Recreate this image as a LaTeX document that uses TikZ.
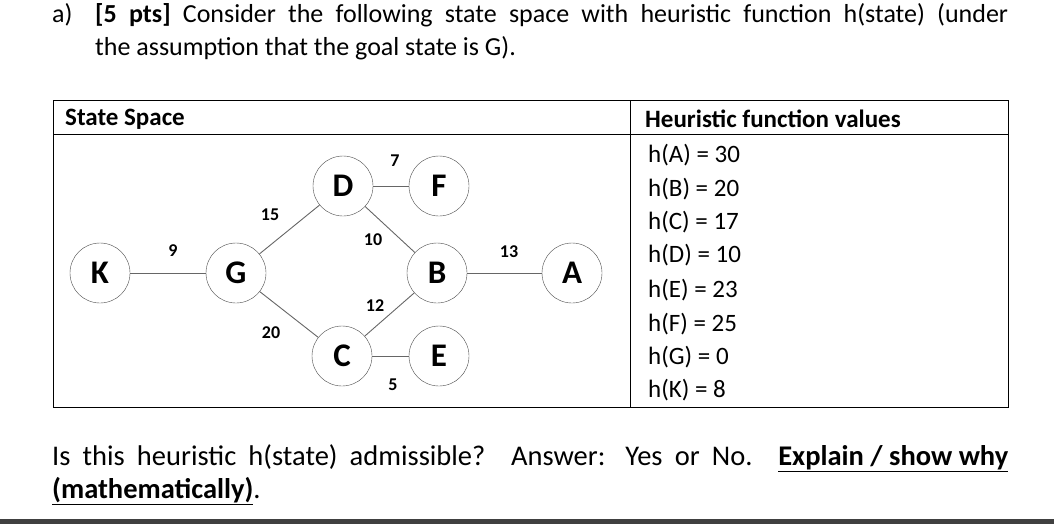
\documentclass[tikz,border=0pt]{standalone}
\usepackage{fontspec}
\setmainfont{Carlito}
\begin{document}
\begin{tikzpicture}[x=1pt,y=-1pt,
  st/.style={circle,draw=black!70,minimum size=60pt,inner sep=0pt,font=\fontsize{33}{34}\selectfont\bfseries},
  ed/.style={draw=black!60,line width=0.9pt},
  wl/.style={font=\fontsize{18}{20}\selectfont\bfseries},
  tx/.style={font=\fontsize{26}{33}\selectfont,inner sep=0pt},
  hv/.style={font=\fontsize{25}{27}\selectfont,anchor=west,inner sep=0pt}]
\useasboundingbox (0,0) rectangle (1054,524);
\fill[black!75] (0,519) rectangle (1054,524);
% title
\node[tx,anchor=north west] (qa) at (52,3) {a)};
\node[tx,anchor=north west,text width=913pt,align=justify] (qt) at (95,3) {\textbf{[5 pts]} Consider the following state space with heuristic function h(state) (under\linebreak the assumption that the goal state is G).};
% table
\draw[line width=1pt] (53,101) rectangle (1008,407);
\draw[line width=1pt] (53,134) -- (1008,134);
\draw[line width=1pt] (630,101) -- (630,407);
\node[hv,font=\fontsize{25}{27}\selectfont\bfseries] (h1) at (65,119) {State Space};
\node[hv,font=\fontsize{25}{27}\selectfont\bfseries] (h2) at (645,119) {Heuristic function values};
\node[hv] (vA) at (648,155) {h(A) = 30};
\node[hv] (vB) at (648,189) {h(B) = 20};
\node[hv] (vC) at (648,222) {h(C) = 17};
\node[hv] (vD) at (648,255) {h(D) = 10};
\node[hv] (vE) at (648,290) {h(E) = 23};
\node[hv] (vF) at (648,324) {h(F) = 25};
\node[hv] (vG) at (648,357) {h(G) = 0};
\node[hv] (vK) at (648,390) {h(K) = 8};
% graph
\node[st] (K) at (100,273) {K};
\node[st] (G) at (236,273) {G};
\node[st] (D) at (343,186) {D};
\node[st] (F) at (439,186) {F};
\node[st] (B) at (437,273) {B};
\node[st] (A) at (572,273) {A};
\node[st] (C) at (342,356) {C};
\node[st] (E) at (439,356) {E};
\draw[ed] (K) -- (G); \draw[ed] (G) -- (D); \draw[ed] (G) -- (C);
\draw[ed] (D) -- (F); \draw[ed] (D) -- (B); \draw[ed] (C) -- (B);
\draw[ed] (C) -- (E); \draw[ed] (B) -- (A);
\node[wl] (l9) at (173,251) {9};
\node[wl] (l15) at (270,215) {15};
\node[wl] (l20) at (271,333) {20};
\node[wl] (l7) at (395,161) {7};
\node[wl] (l10) at (373,240) {10};
\node[wl] (l12) at (375,306) {12};
\node[wl] (l5) at (393,385) {5};
\node[wl] (l13) at (509,252) {13};
% question
\node[tx,font=\fontsize{28.5}{33}\selectfont,anchor=north west,text width=956pt,align=justify] (qq) at (52,444) {Is this heuristic h(state) admissible? Answer: Yes or No. \textbf{\underline{Explain / show why}}\linebreak\textbf{\underline{(mathematically)}}.};
\end{tikzpicture}
\end{document}
